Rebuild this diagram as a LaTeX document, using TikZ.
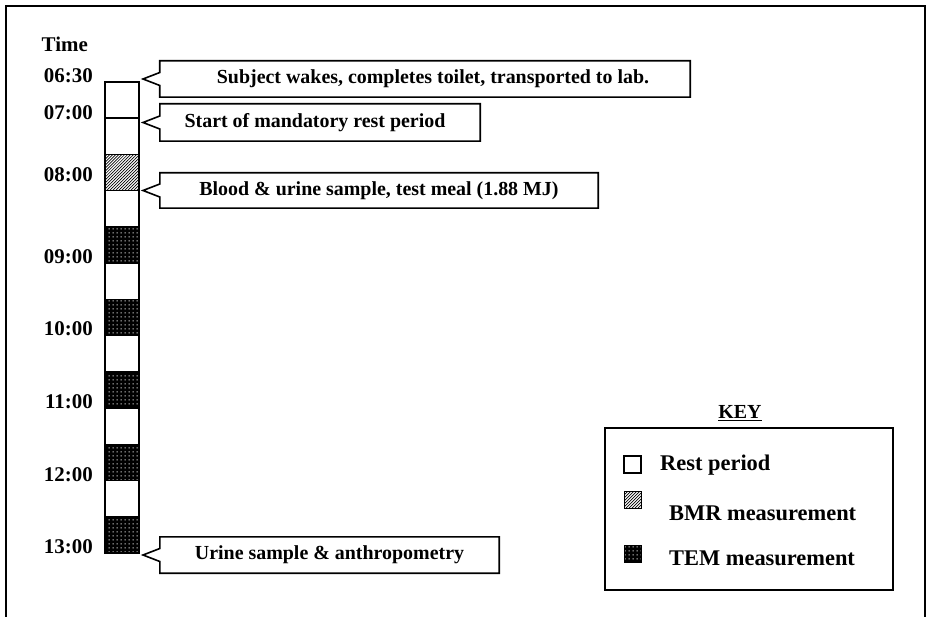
\documentclass[tikz,border=0pt]{standalone}
\usepackage{fontspec}
\setmainfont{Liberation Serif}
\usetikzlibrary{patterns,calc}
\pgfdeclarepatternformonly{temgrid}{\pgfqpoint{0pt}{0pt}}{\pgfqpoint{3.6pt}{3.6pt}}{\pgfqpoint{3.6pt}{3.6pt}}{%
  \pgfpathrectangle{\pgfqpoint{0.6pt}{0.6pt}}{\pgfqpoint{1.3pt}{1.1pt}}\pgfusepath{fill}}
\pgfdeclarepatternformonly{bmrhatch}{\pgfqpoint{-1pt}{-1pt}}{\pgfqpoint{4pt}{4pt}}{\pgfqpoint{3pt}{3pt}}{%
  \pgfsetlinewidth{0.7pt}%
  \pgfpathmoveto{\pgfqpoint{0pt}{0pt}}\pgfpathlineto{\pgfqpoint{3.1pt}{3.1pt}}\pgfusepath{stroke}}
\tikzset{
  callout/.style={minimum height=36bp, inner sep=0pt, font=\fontsize{20}{20}\selectfont\bfseries},
  calloutline/.style={line width=1.6bp, fill=white, line join=miter},
  timelbl/.style={anchor=east, inner sep=0pt, font=\fontsize{21}{21}\selectfont\bfseries},
  keytext/.style={anchor=west, inner sep=0pt, font=\fontsize{22.5}{22.5}\selectfont\bfseries},
  seg/.style={line width=1.6bp},
  hatchfill/.style={pattern=bmrhatch},
}
\begin{document}
\begin{tikzpicture}[x=1bp,y=-1bp]
\useasboundingbox (0,0) rectangle (928,617);
% outer frame (no bottom edge)
\draw[line width=2.4bp] (6,617) -- (6,6) -- (925,6) -- (925,617);

% time column
\node[timelbl] (time) at (88,44) {Time};
\node[timelbl] (t0630) at (93,76) {06:30};
\node[timelbl] (t0700) at (93,113) {07:00};
\node[timelbl] (t0800) at (93,175) {08:00};
\node[timelbl] (t0900) at (93,257) {09:00};
\node[timelbl] (t1000) at (93,329) {10:00};
\node[timelbl] (t1100) at (93,402) {11:00};
\node[timelbl] (t1200) at (93,475) {12:00};
\node[timelbl] (t1300) at (93,547) {13:00};

% bar segments
\def\segh{36.23}
\foreach \i in {0,1,3,5,7,9,11} {
  \draw[seg, fill=white] (105,{82+\i*\segh}) rectangle (139,{82+(\i+1)*\segh});
}
\draw[seg, hatchfill] (105,{82+2*\segh}) rectangle (139,{82+3*\segh});
\foreach \i in {4,6,8,10,12} {
  \fill[black] (105,{82+\i*\segh}) rectangle (139,{82+(\i+1)*\segh});
  \fill[pattern=temgrid, pattern color=white] (105,{82+\i*\segh}) rectangle (139,{82+(\i+1)*\segh});
  \draw[seg] (105,{82+\i*\segh}) rectangle (139,{82+(\i+1)*\segh});
}

% callouts
\coordinate (tip1) at (143,79);
\coordinate (tip2) at (143,122.5);
\coordinate (tip3) at (143,190.5);
\coordinate (tip4) at (143,555);
\node[callout, minimum width=530bp] (c1) at (425,79) {};
\node[callout, minimum width=320bp, minimum height=37bp] (c2) at (320,122.5) {};
\node[callout, minimum width=438bp, minimum height=35bp] (c3) at (379,190.5) {};
\node[callout, minimum width=339bp] (c4) at (329.5,555) {};
\foreach \c/\t in {c1/tip1,c2/tip2,c3/tip3,c4/tip4} {
  \draw[calloutline] (\c.north west) -- (\c.north east) -- (\c.south east) -- (\c.south west)
    -- ($(\c.west)+(0,6.5)$) -- (\t) -- ($(\c.west)+(0,-6.5)$) -- cycle;
}
\node[callout] (c1t) at ($(c1)+(8,0)$) {Subject wakes, completes toilet, transported to lab.};
\node[callout] (c2t) at ($(c2)+(-5,0)$) {Start of mandatory rest period};
\node[callout] (c3t) at (c3) {Blood \& urine sample, test meal (1.88 MJ)};
\node[callout] (c4t) at (c4) {Urine sample \& anthropometry};

% key
\node[font=\fontsize{20}{20}\selectfont\bfseries, inner sep=0pt] (keytitle) at (740,413) {\underline{KEY}};
\node[draw, line width=1.6bp, minimum width=288bp, minimum height=162bp, inner sep=0pt] (keybox) at (749,509) {};
\draw[seg, fill=white] (624,456) rectangle (641,473);
\draw[line width=1bp, hatchfill] (624,491) rectangle (641,508);
\fill[black] (624,545) rectangle (641,562);
\fill[pattern=temgrid, pattern color=white] (624,545) rectangle (641,562);
\draw[line width=1bp] (624,545) rectangle (641,562);
\node[keytext] (k1) at (660,465) {Rest period};
\node[keytext] (k2) at (669,513) {BMR measurement};
\node[keytext] (k3) at (669,558) {TEM measurement};
\end{tikzpicture}
\end{document}
